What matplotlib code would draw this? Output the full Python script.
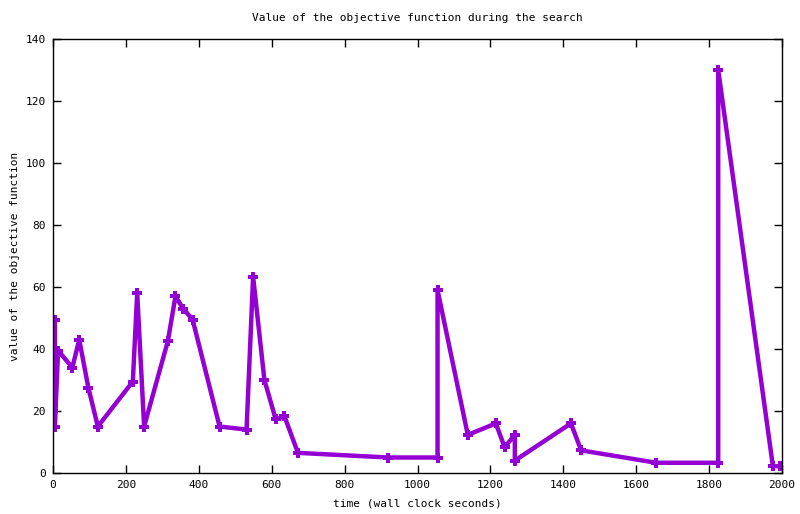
import matplotlib
matplotlib.use('Agg')
import matplotlib.pyplot as plt

# time (s) and objective value
t = [1, 5, 5, 14, 53, 72, 97, 123, 219, 231, 250, 315, 336, 357, 383, 457, 531,
     549, 580, 611, 635, 672, 919, 1055, 1055, 1138, 1215, 1239, 1267, 1267,
     1421, 1449, 1655, 1825, 1825, 1975, 1995]
obj = [20, 49.5, 15, 39.5, 34, 43, 27.5, 15, 29.5, 58, 15, 42.5, 57, 53, 49.5, 15, 14,
       63.3, 30, 17.3, 18.3, 6.5, 5, 5, 59, 12.3, 16, 8.3, 12.3, 4,
       16, 7.3, 3.3, 3.3, 130, 2.2, 2.2]

xticks = list(range(0, 2001, 200))
yticks = list(range(0, 141, 20))

plt.rcParams['font.family'] = ['DejaVu Sans Mono']
plt.rcParams['font.size'] = 8

fig = plt.figure(figsize=(8, 5.14), dpi=100)
ax = fig.add_axes([53 / 800, 1 - 473 / 514, (782 - 53) / 800, (473 - 39) / 514])

ax.plot(t, obj, color='#9400d3', linewidth=3.2, marker='P', markersize=7,
        markeredgewidth=0, solid_joinstyle='round')

ax.set_xlim(0, 2000)
ax.set_ylim(0, 140)
ax.set_xticks(xticks)
ax.set_yticks(yticks)
ax.tick_params(direction='in', length=6, width=1, top=True, right=True,
               labelsize=8, pad=5)
for s in ax.spines.values():
    s.set_linewidth(1)

ax.set_title('Value of the objective function during the search', fontsize=8, pad=13)
ax.set_xlabel('time (wall clock seconds)', fontsize=8, labelpad=6)
ax.set_ylabel('value of the objective function', fontsize=8, labelpad=4)

fig.savefig('out.png', dpi=100)
